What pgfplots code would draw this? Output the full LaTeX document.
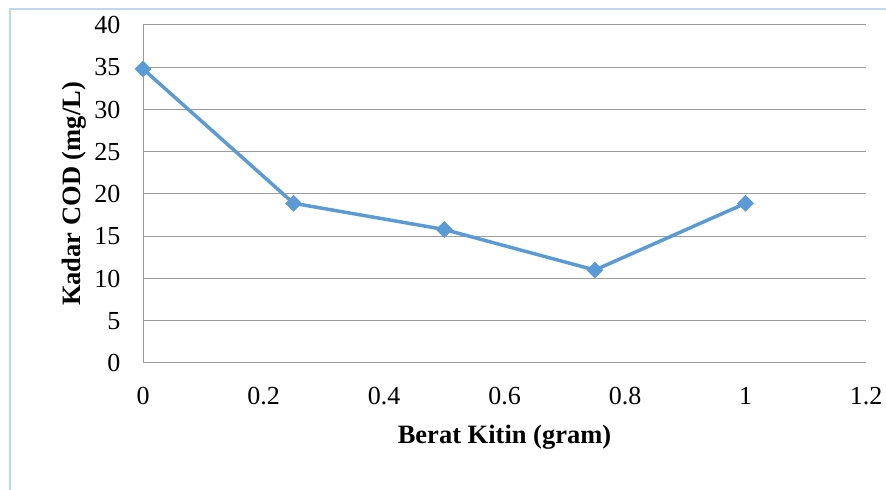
\documentclass[border=0pt]{standalone}
\usepackage{pgfplots}
\pgfplotsset{compat=1.18}
\usepackage{fontspec}
\setmainfont{Liberation Serif}
\definecolor{linec}{RGB}{91,155,213}
\definecolor{gridc}{RGB}{155,155,155}
\definecolor{framec}{RGB}{190,215,245}
\begin{document}
\begin{tikzpicture}
\path[use as bounding box] (0,0) rectangle (886bp,490bp);
\draw[framec, line width=2bp] (9.5bp,0) -- (9.5bp,480.5bp) -- (886bp,480.5bp);
\begin{axis}[
  at={(143bp,127bp)}, anchor=south west,
  scale only axis, width=723bp, height=338bp,
  xmin=0, xmax=1.2, ymin=0, ymax=40,
  xtick={0,0.2,0.4,0.6,0.8,1,1.2},
  xticklabels={0,0.2,0.4,0.6,0.8,1,1.2},
  ytick={0,5,...,40},
  axis line style={draw=none},
  axis x line*=bottom, axis y line*=left,
  major tick length=0pt,
  ymajorgrids, grid style={gridc, line width=1bp},
  tick label style={font=\fontsize{26bp}{29bp}\selectfont},
  /pgf/number format/assume math mode=true,
  xticklabel style={yshift=-21bp},
  yticklabel style={xshift=-19bp},
  xlabel={\textbf{Berat Kitin (gram)}},
  ylabel={\textbf{Kadar COD (mg/L)}},
  label style={font=\fontsize{26.5bp}{29bp}\selectfont},
  xlabel style={yshift=-13bp},
  ylabel style={yshift=1bp},
  clip=false,
]
\draw[gridc, line width=1bp] (axis cs:0,0) -- (axis cs:1.2,0);
\draw[gridc, line width=1bp] (axis cs:0,0) -- (axis cs:0,40);
\addplot[color=linec, line width=3.5bp, mark=square*, mark size=5.7bp, mark options={fill=linec, draw=linec, line width=0.5bp, rotate=45}]
  coordinates {(0,34.8) (0.25,18.9) (0.5,15.8) (0.75,11.0) (1,18.9)};
\end{axis}
\end{tikzpicture}
\end{document}
